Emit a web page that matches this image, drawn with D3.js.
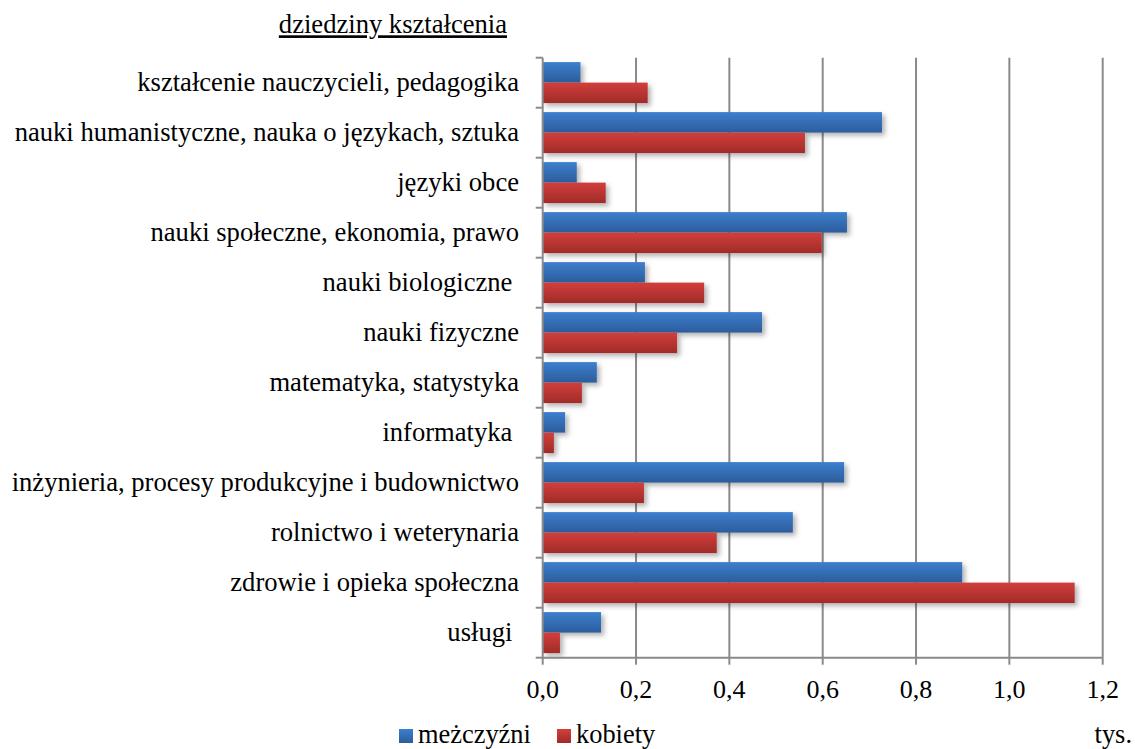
<!DOCTYPE html>
<html>
<head>
<meta charset="utf-8">
<script src="https://cdn.jsdelivr.net/npm/d3@7"></script>
<style>
  body { margin: 0; background: #fff; }
  text { font-family: "Liberation Serif", "Times New Roman", serif; fill: #000; }
</style>
</head>
<body>
<svg id="chart"></svg>
<script>
const width = 1135;
const height = 749;

const categories = [
  "kształcenie nauczycieli, pedagogika",
  "nauki humanistyczne, nauka o językach, sztuka",
  "języki obce",
  "nauki społeczne, ekonomia, prawo",
  "nauki biologiczne ",
  "nauki fizyczne",
  "matematyka, statystyka",
  "informatyka ",
  "inżynieria, procesy produkcyjne i budownictwo",
  "rolnictwo i weterynaria",
  "zdrowie i opieka społeczna",
  "usługi "
];
const men =   [0.081, 0.727, 0.073, 0.652, 0.219, 0.470, 0.116, 0.048, 0.646, 0.536, 0.899, 0.125];
const women = [0.225, 0.562, 0.135, 0.598, 0.346, 0.288, 0.084, 0.024, 0.217, 0.373, 1.140, 0.037];
const series = [
  { name: "meżczyźni", values: men, top: "#3d7fce", bottom: "#2c5d9c" },
  { name: "kobiety", values: women, top: "#d23f3b", bottom: "#a02b29" }
];
const xTicks = [0, 0.2, 0.4, 0.6, 0.8, 1.0, 1.2];

const margin = { top: 57.7, left: 542.7 };

const svg = d3.select("#chart")
    .attr("width", width)
    .attr("height", height);

// Vertical gradients and a soft shadow, like the office bar style.
const defs = svg.append("defs");
series.forEach((s, i) => {
  const g = defs.append("linearGradient")
      .attr("id", "grad" + i)
      .attr("x1", 0).attr("y1", 0).attr("x2", 0).attr("y2", 1);
  g.append("stop").attr("offset", "0%").attr("stop-color", s.top);
  g.append("stop").attr("offset", "100%").attr("stop-color", s.bottom);
});
const shadow = defs.append("filter").attr("id", "shadow")
    .attr("x", "-5%").attr("y", "-20%").attr("width", "120%").attr("height", "160%");
shadow.append("feDropShadow")
    .attr("dx", 3).attr("dy", 3).attr("stdDeviation", 2.5)
    .attr("flood-color", "#000").attr("flood-opacity", 0.3);

const x = d3.scaleLinear()
    .domain([0, 1.2])
    .range([margin.left, margin.left + 560]);

const y = d3.scaleBand()
    .domain(categories)
    .range([margin.top, margin.top + 600]);

const inner = d3.scaleBand()
    .domain(d3.range(series.length))
    .range([4.4, y.bandwidth() - 4.6]);

// Gridlines
svg.append("g")
    .selectAll("line")
    .data(xTicks.slice(1))
    .join("line")
    .attr("x1", d => x(d)).attr("x2", d => x(d))
    .attr("y1", margin.top).attr("y2", margin.top + 600)
    .attr("stroke", "#8a8a8a")
    .attr("stroke-width", 2);

// Bars
series.forEach((s, i) => {
  svg.append("g")
      .attr("filter", "url(#shadow)")
      .selectAll("rect")
      .data(s.values)
      .join("rect")
      .attr("x", x(0))
      .attr("y", (d, j) => y(categories[j]) + inner(i))
      .attr("width", d => x(d) - x(0))
      .attr("height", inner.bandwidth())
      .attr("fill", `url(#grad${i})`);
});

// Y axis
const yAxis = svg.append("g")
    .attr("transform", `translate(${x(0)},0)`);
yAxis.append("line")
    .attr("y1", margin.top).attr("y2", margin.top + 600)
    .attr("stroke", "#8a8a8a").attr("stroke-width", 2);
yAxis.selectAll("line.tick")
    .data(d3.range(categories.length + 1))
    .join("line")
    .attr("class", "tick")
    .attr("x1", -7).attr("x2", 0)
    .attr("y1", d => margin.top + d * y.step())
    .attr("y2", d => margin.top + d * y.step())
    .attr("stroke", "#8a8a8a").attr("stroke-width", 2);
yAxis.selectAll("text")
    .data(categories)
    .join("text")
    .attr("x", -23.7)
    .attr("y", d => y(d) + y.bandwidth() / 2 + 8.5)
    .attr("text-anchor", "end")
    .attr("font-size", 26.6)
    .attr("xml:space", "preserve")
    .style("white-space", "pre")
    .text(d => d);

// X axis
const xAxis = svg.append("g")
    .attr("transform", `translate(0,${margin.top + 600})`);
xAxis.append("line")
    .attr("x1", x(0)).attr("x2", x(1.2))
    .attr("stroke", "#8a8a8a").attr("stroke-width", 2);
xAxis.selectAll("line.tick")
    .data(xTicks)
    .join("line")
    .attr("class", "tick")
    .attr("x1", d => x(d)).attr("x2", d => x(d))
    .attr("y1", 0).attr("y2", 7)
    .attr("stroke", "#8a8a8a").attr("stroke-width", 2);
xAxis.selectAll("text")
    .data(xTicks)
    .join("text")
    .attr("x", d => x(d))
    .attr("y", 40)
    .attr("text-anchor", "middle")
    .attr("font-size", 26)
    .text(d => d3.format(".1f")(d).replace(".", ","));

// Title and unit
svg.append("text")
    .attr("x", 507)
    .attr("y", 33.3)
    .attr("text-anchor", "end")
    .attr("font-size", 26.6)
    .attr("text-decoration", "underline")
    .text("dziedziny kształcenia");

svg.append("text")
    .attr("x", 1132)
    .attr("y", 742.5)
    .attr("text-anchor", "end")
    .attr("font-size", 26.4)
    .text("tys.");

// Legend
const legend = svg.append("g")
    .selectAll("g")
    .data(series)
    .join("g")
    .attr("transform", (d, i) => `translate(${[399, 557][i]},729)`);
legend.append("rect")
    .attr("width", 14).attr("height", 14)
    .attr("fill", (d, i) => `url(#grad${i})`);
legend.append("text")
    .attr("x", 19)
    .attr("y", 14)
    .attr("font-size", 26.4)
    .text(d => d.name);
</script>
</body>
</html>
